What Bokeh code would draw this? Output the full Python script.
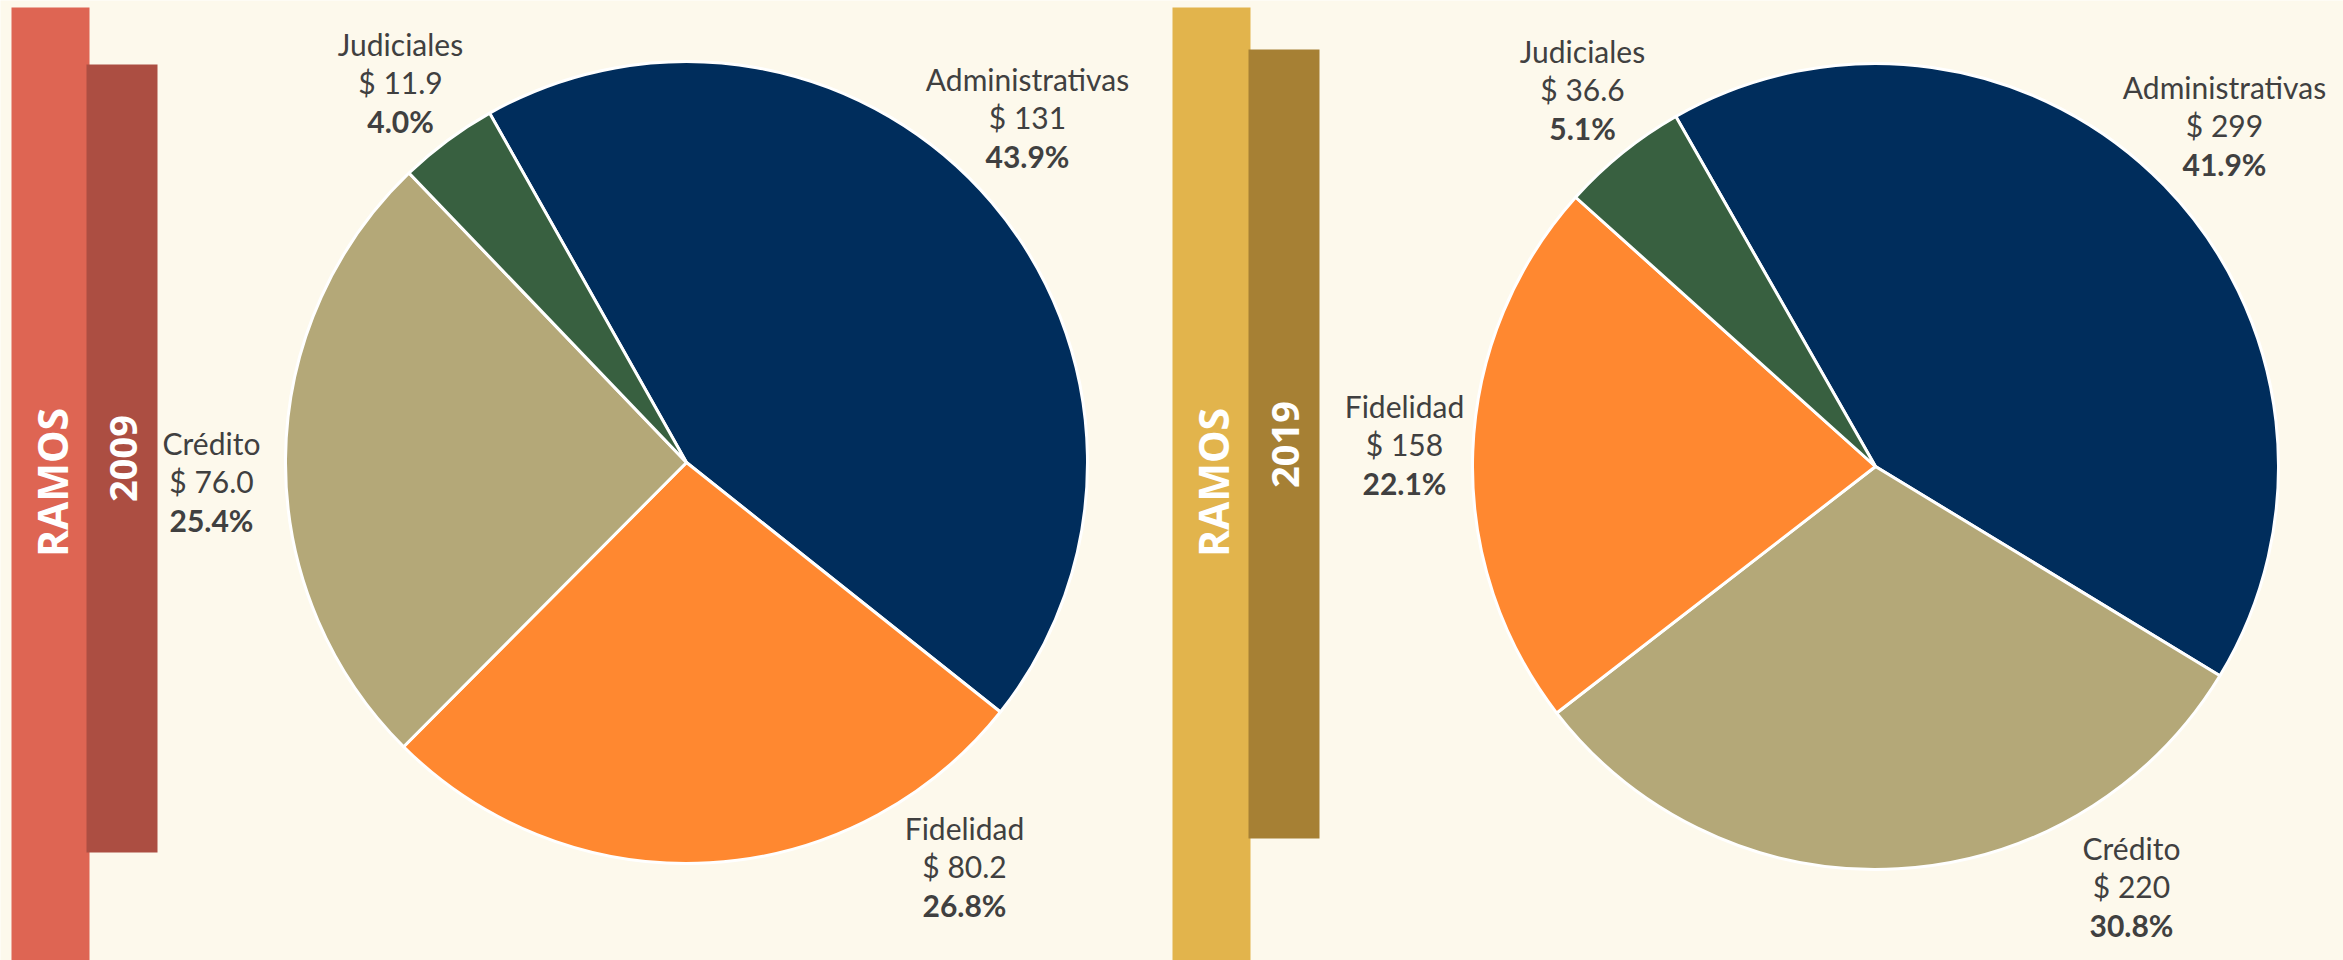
import math
from bokeh.plotting import figure
from bokeh.models import Range1d, ColumnDataSource
from bokeh.core.properties import value
from bokeh.embed import file_html
from bokeh.resources import INLINE

# ---------------- data ----------------
ramos_2009 = ["Administrativas", "Fidelidad", "Crédito", "Judiciales"]
montos_2009 = [131, 80.2, 76.0, 11.9]
pct_2009 = [43.9, 26.8, 25.4, 4.0]

ramos_2019 = ["Administrativas", "Crédito", "Fidelidad", "Judiciales"]
montos_2019 = [299, 220, 158, 36.6]
pct_2019 = [41.9, 30.8, 22.1, 5.1]

titulo = "RAMOS"
anios = ["2009", "2019"]

# ---------------- styles / layout ----------------
BG = "#FDF9EC"
COLORS = {"Administrativas": "#002D5C", "Fidelidad": "#FF8830",
          "Crédito": "#B4A878", "Judiciales": "#386040"}
TXT = "#404040"
FONT = "Lato"
W, H = 2343, 960

def Y(yr):  # reference (top-down) pixel -> data (bottom-up)
    return H - yr

p = figure(width=W, height=H, x_range=Range1d(0, W), y_range=Range1d(0, H),
           output_backend="svg", toolbar_location=None, min_border=0,
           x_axis_location=None, y_axis_location=None)
p.grid.visible = False
p.outline_line_color = None
p.background_fill_color = BG
p.border_fill_color = BG

# side bars
bars = [
    dict(outer=(11, 89, 7, 962), inner=(86, 157, 64, 852), oc="#DE6553", ic="#AC4E42",
         ramos_y=482, year_y=458),
    dict(outer=(1172, 1250, 7, 962), inner=(1248, 1319, 49, 838), oc="#E2B44C", ic="#A68034",
         ramos_y=482, year_y=444),
]
for b, yr in zip(bars, anios):
    l, r, t, btm = b["outer"]
    p.quad(left=l, right=r, top=Y(t), bottom=Y(btm), fill_color=b["oc"], line_color=None)
    l2, r2, t2, b2 = b["inner"]
    p.quad(left=l2, right=r2, top=Y(t2), bottom=Y(b2), fill_color=b["ic"], line_color=None)
    p.text(x=[(l + r) / 2 + 1], y=[Y(b["ramos_y"])], text=[titulo], angle=math.pi / 2,
           text_align="center", text_baseline="middle", text_color="white",
           text_font=value("Open Sans"), text_font_style="bold", text_font_size="41px")
    p.text(x=[(l2 + r2) / 2 + 1], y=[Y(b["year_y"])], text=[yr], angle=math.pi / 2,
           text_align="center", text_baseline="middle", text_color="white",
           text_font=value("Open Sans"), text_font_style="bold", text_font_size="38px")

def fmt_monto(v):
    return f"$ {v:.0f}" if v >= 100 else f"$ {v:.1f}"

def pie(names, montos, pct, cx, cy, r, a0_deg, label_pos):
    total = sum(pct)
    a0 = math.radians(a0_deg)
    starts, ends = [], []
    cum = 0.0
    for v in pct:
        s = a0 - cum / total * 2 * math.pi
        cum += v
        e = a0 - cum / total * 2 * math.pi
        starts.append(s)
        ends.append(e)
    src = ColumnDataSource(dict(start=starts, end=ends, color=[COLORS[n] for n in names]))
    p.wedge(x=cx, y=Y(cy), radius=r, start_angle="start", end_angle="end", direction="clock",
            fill_color="color", line_color="white", line_width=3, source=src)
    xs = [label_pos[n][0] for n in names]
    ys = [label_pos[n][1] for n in names]
    gap = 38.5
    p.text(x=xs, y=[Y(y) for y in ys], text=names, text_align="center", text_baseline="middle",
           text_color=TXT, text_font=value(FONT), text_font_size="30px")
    p.text(x=xs, y=[Y(y + gap) for y in ys], text=[fmt_monto(v) for v in montos],
           text_align="center", text_baseline="middle",
           text_color=TXT, text_font=value(FONT), text_font_size="30px")
    p.text(x=xs, y=[Y(y + 2 * gap) for y in ys], text=[f"{v:.1f}%" for v in pct],
           text_align="center", text_baseline="middle", text_font_style="bold",
           text_color=TXT, text_font=value(FONT), text_font_size="30px")

pie(ramos_2009, montos_2009, pct_2009, 686, 462, 401, 119.4,
    {"Administrativas": (1027, 78), "Fidelidad": (964, 827),
     "Crédito": (211, 442), "Judiciales": (400, 43)})
pie(ramos_2019, montos_2019, pct_2019, 1875, 466, 403, 119.7,
    {"Administrativas": (2224, 86), "Crédito": (2131, 847),
     "Fidelidad": (1404, 405), "Judiciales": (1582, 50)})

open("out.html", "w").write(file_html(p, INLINE))
